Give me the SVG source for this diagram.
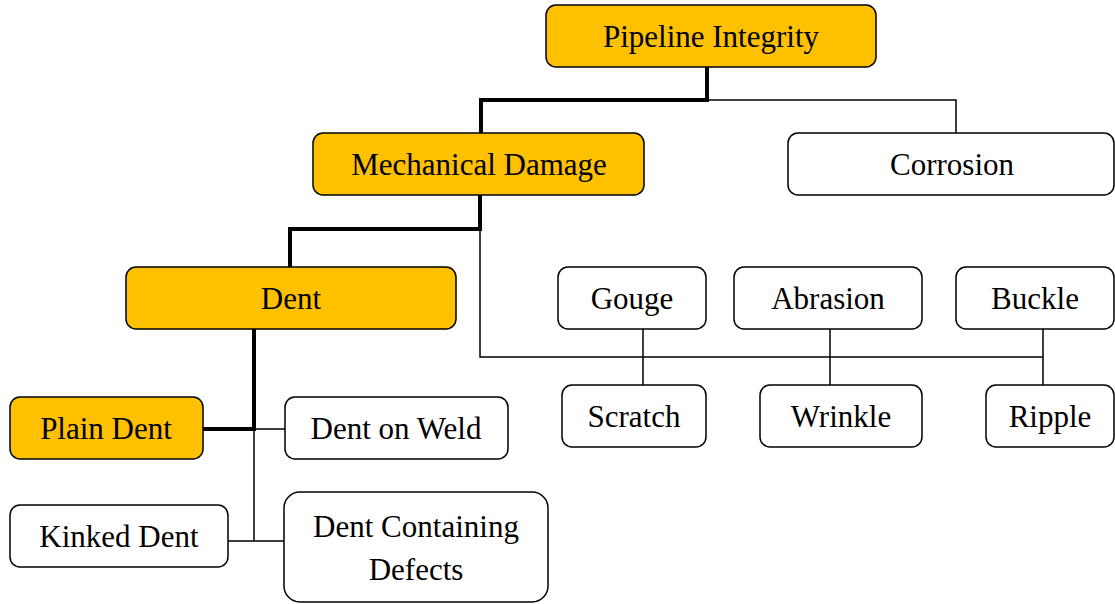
<svg xmlns="http://www.w3.org/2000/svg" width="1115" height="604" viewBox="0 0 1115 604">
<style>
.box{fill:#fff;stroke:#000;stroke-width:1.5}
.hl{fill:#FFC000;stroke:#000;stroke-width:1.5}
text{font-family:"Liberation Serif","Times New Roman",serif;font-size:31px;fill:#000;text-anchor:middle}
.thick{fill:none;stroke:#000;stroke-width:4}
.thin{fill:none;stroke:#000;stroke-width:1.5}
</style>
<rect width="1115" height="604" fill="#fff"/>
<g id="connectors">
<path class="thin" d="M707,100 H956 V133"/>
<path class="thin" d="M480,229 V357 H1043"/>
<path class="thin" d="M643,329 V385 M830,329 V385 M1043,329 V385"/>
<path class="thin" d="M254,429 V541 M254,429 H285 M228,541 H284"/>
<path class="thick" d="M707,67 V100 H481 V133"/>
<path class="thick" d="M480,195 V229 H290 V267"/>
<path class="thick" d="M254,329 V429 H203"/>
</g>
<g id="pipeline"><rect class="hl" x="546" y="5" width="330" height="62" rx="10"/><text x="711" y="47">Pipeline Integrity</text></g>
<g id="mechanical"><rect class="hl" x="313" y="133" width="331" height="62" rx="10"/><text x="479" y="175">Mechanical Damage</text></g>
<g id="corrosion"><rect class="box" x="788" y="133" width="326" height="62" rx="10"/><text x="952" y="175">Corrosion</text></g>
<g id="dent"><rect class="hl" x="126" y="267" width="330" height="62" rx="10"/><text x="291" y="309">Dent</text></g>
<g id="gouge"><rect class="box" x="558" y="267" width="148" height="62" rx="10"/><text x="632" y="309">Gouge</text></g>
<g id="abrasion"><rect class="box" x="734" y="267" width="188" height="62" rx="10"/><text x="828" y="309">Abrasion</text></g>
<g id="buckle"><rect class="box" x="956" y="267" width="158" height="62" rx="10"/><text x="1035" y="309">Buckle</text></g>
<g id="scratch"><rect class="box" x="562" y="385" width="144" height="62" rx="10"/><text x="634" y="427">Scratch</text></g>
<g id="wrinkle"><rect class="box" x="760" y="385" width="162" height="62" rx="10"/><text x="841" y="427">Wrinkle</text></g>
<g id="ripple"><rect class="box" x="986" y="385" width="128" height="62" rx="10"/><text x="1050" y="427">Ripple</text></g>
<g id="plaindent"><rect class="hl" x="10" y="397" width="193" height="62" rx="10"/><text x="106" y="439">Plain Dent</text></g>
<g id="dentweld"><rect class="box" x="285" y="397" width="223" height="62" rx="10"/><text x="396" y="439">Dent on Weld</text></g>
<g id="kinked"><rect class="box" x="10" y="505" width="218" height="62" rx="10"/><text x="119" y="547">Kinked Dent</text></g>
<g id="containing"><rect class="box" x="284" y="492" width="264" height="110" rx="16"/><text x="416" y="537">Dent Containing</text><text x="416" y="580">Defects</text></g>
</svg>
